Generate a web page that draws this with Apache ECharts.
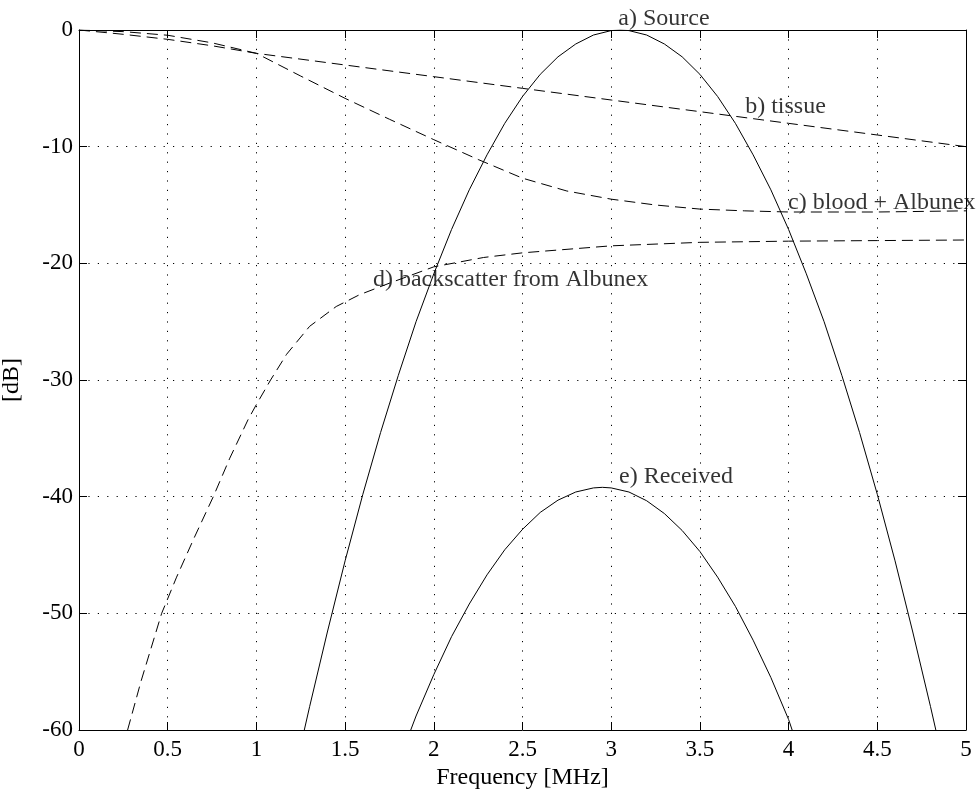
<!DOCTYPE html>
<html>
<head>
<meta charset="utf-8">
<title>Spectra: source, attenuation, backscatter, received</title>
<script src="https://cdn.jsdelivr.net/npm/echarts@6/dist/echarts.min.js"></script>
<style>
  html, body { margin: 0; padding: 0; background: #ffffff; }
  #chart { width: 979px; height: 794px; }
</style>
</head>
<body>
<div id="chart"></div>
<script>
// Frequency axis ticks [MHz] and level axis ticks [dB]
const freqTicks = [0, 0.5, 1, 1.5, 2, 2.5, 3, 3.5, 4, 4.5, 5];
const dbTicks = [-60, -50, -40, -30, -20, -10, 0];

// a) Source spectrum [MHz, dB]
const sourceCurve = [
  [1.27, -60.0], [1.3, -58.0], [1.4, -51.6], [1.5, -45.5], [1.6, -39.8],
  [1.7, -34.5], [1.8, -29.6], [1.9, -25.0], [2.0, -20.9], [2.1, -17.1],
  [2.2, -13.7], [2.3, -10.7], [2.4, -8.0], [2.5, -5.7], [2.6, -3.8],
  [2.7, -2.3], [2.8, -1.2], [2.9, -0.43], [3.0, -0.05], [3.05, 0.0],
  [3.1, -0.05], [3.2, -0.43], [3.3, -1.2], [3.4, -2.3], [3.5, -3.8],
  [3.6, -5.7], [3.7, -8.0], [3.8, -10.7], [3.9, -13.7], [4.0, -17.1],
  [4.1, -20.9], [4.2, -25.0], [4.3, -29.6], [4.4, -34.5], [4.5, -39.8],
  [4.6, -45.5], [4.7, -51.6], [4.8, -58.0], [4.83, -60.0]
];

// b) Tissue attenuation
const tissueCurve = [
  [0, 0], [0.25, -0.37], [0.5, -0.8], [0.75, -1.35], [1.0, -2.0],
  [1.5, -3.0], [2.0, -4.0], [2.5, -5.0], [3.0, -6.0], [3.5, -7.0],
  [4.0, -8.0], [4.5, -9.0], [5.0, -10.0]
];

// c) Blood + Albunex attenuation
const bloodCurve = [
  [0, 0], [0.25, -0.14], [0.5, -0.45], [0.75, -1.1], [1.0, -2.0],
  [1.25, -3.95], [1.5, -5.86], [1.75, -7.65], [2.0, -9.4], [2.25, -11.1],
  [2.5, -12.7], [2.75, -13.8], [3.0, -14.5], [3.25, -15.0], [3.5, -15.35],
  [3.75, -15.5], [4.0, -15.6], [4.5, -15.6], [5.0, -15.5]
];

// d) Backscatter from Albunex
const backscatterCurve = [
  [0.274, -60.0], [0.35, -55.8], [0.466, -50.0], [0.55, -46.9], [0.65, -43.5],
  [0.757, -40.0], [0.85, -36.7], [0.953, -33.4], [1.0, -32.1], [1.08, -30.0],
  [1.17, -27.8], [1.3, -25.4], [1.45, -23.7], [1.58, -22.7], [1.75, -21.7],
  [2.0, -20.3], [2.28, -19.5], [2.5, -19.1], [3.0, -18.5], [3.5, -18.2],
  [4.0, -18.1], [4.5, -18.05], [5.0, -18.0]
];

// e) Received spectrum
const receivedCurve = [
  [1.87, -60.0], [1.9, -58.8], [2.0, -55.25], [2.1, -52.0], [2.2, -49.2],
  [2.3, -46.7], [2.4, -44.55], [2.5, -42.8], [2.6, -41.35], [2.7, -40.3],
  [2.8, -39.6], [2.9, -39.25], [2.95, -39.2], [3.0, -39.25], [3.1, -39.6],
  [3.2, -40.35], [3.3, -41.45], [3.4, -42.9], [3.5, -44.7], [3.6, -46.9],
  [3.7, -49.4], [3.8, -52.3], [3.9, -55.5], [4.0, -59.1], [4.02, -60.0]
];

// Curve captions
const captionTexts = ['a) Source', 'b) tissue', 'c) blood + Albunex', 'd) backscatter from Albunex', 'e) Received'];

const FONT = '"Liberation Serif", "Times New Roman", Times, serif';
const FS_TICK = 23;
const FS_TEXT = 24;

const chart = echarts.init(document.getElementById('chart'), null, { renderer: 'canvas' });

const dotted = { type: [1.2, 8.2], color: '#000', width: 1 };
const dashed = { type: [11, 6], color: '#000', width: 1 };

function boxAxis(pos, isX, showLabel) {
  const ticks = isX ? freqTicks : dbTicks;
  return {
    type: 'value',
    position: pos,
    min: ticks[0],
    max: ticks[ticks.length - 1],
    interval: ticks[1] - ticks[0],
    axisLine: { show: true, onZero: false, lineStyle: { color: '#000', width: 1 } },
    axisTick: { show: true, inside: true, length: 8, lineStyle: { color: '#000', width: 1 } },
    axisLabel: {
      show: showLabel,
      color: '#000',
      fontFamily: FONT,
      fontSize: FS_TICK,
      margin: isX ? 8 : 6
    },
    splitLine: { show: showLabel, lineStyle: dotted }
  };
}

const xBottom = Object.assign(boxAxis('bottom', true, true), {
  name: 'Frequency [MHz]',
  nameLocation: 'middle',
  nameGap: 34,
  nameTextStyle: { color: '#000', fontFamily: FONT, fontSize: FS_TEXT }
});
const yLeft = Object.assign(boxAxis('left', false, true), {
  name: '[dB]',
  nameLocation: 'middle',
  nameGap: 55,
  nameTextStyle: { color: '#000', fontFamily: FONT, fontSize: FS_TEXT }
});

function curve(name, data, style) {
  return {
    name: name,
    type: 'line',
    data: data,
    xAxisIndex: 0,
    yAxisIndex: 0,
    showSymbol: false,
    symbol: 'none',
    smooth: false,
    lineStyle: style,
    z: 3,
    silent: true
  };
}

// caption anchor points (left edge, vertical middle of text)
const captionAnchors = [
  [3.04, 1.0], [3.755, -6.6], [3.997, -14.8], [1.657, -21.4], [3.044, -38.3]
];

const option = {
  backgroundColor: '#ffffff',
  animation: false,
  grid: {
    left: 79, right: 13, top: 30, bottom: 64,
    containLabel: false,
    outerBoundsMode: 'none'
  },
  xAxis: [xBottom, boxAxis('top', true, false)],
  yAxis: [yLeft, boxAxis('right', false, false)],
  series: [
    curve('a) Source', sourceCurve, { color: '#000', width: 1 }),
    curve('b) tissue', tissueCurve, dashed),
    curve('c) blood + Albunex', bloodCurve, dashed),
    curve('d) backscatter from Albunex', backscatterCurve, dashed),
    curve('e) Received', receivedCurve, { color: '#000', width: 1 }),
    {
      name: 'captions',
      type: 'scatter',
      clip: false,
      symbolSize: 0,
      silent: true,
      z: 5,
      data: captionTexts.map((t, i) => ({ name: t, value: captionAnchors[i] })),
      label: {
        show: true,
        position: 'right',
        distance: 0,
        formatter: p => p.name,
        color: '#000',
        fontFamily: FONT,
        fontSize: FS_TEXT,
        verticalAlign: 'middle'
      }
    }
  ]
};

chart.setOption(option);
</script>
</body>
</html>
